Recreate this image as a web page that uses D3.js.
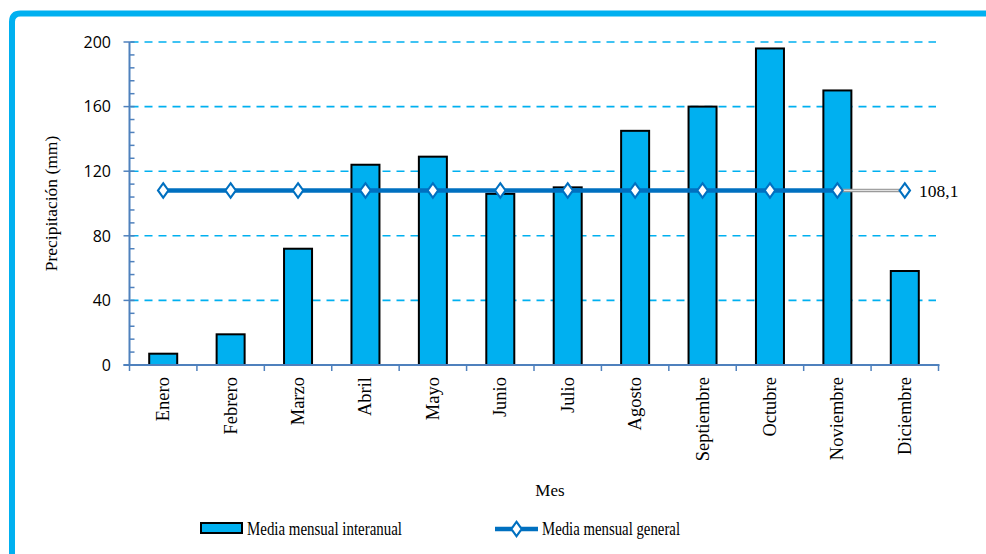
<!DOCTYPE html>
<html>
<head>
<meta charset="utf-8">
<script src="https://cdn.jsdelivr.net/npm/d3@7"></script>
<style>
  html, body { margin: 0; padding: 0; background: #fff; }
  svg { display: block; }
</style>
</head>
<body>
<svg id="chart" width="986" height="554"></svg>
<script>
// Monthly precipitation (mm)
const meses = ["Enero", "Febrero", "Marzo", "Abril", "Mayo", "Junio", "Julio",
               "Agosto", "Septiembre", "Octubre", "Noviembre", "Diciembre"];
const mediaInteranual = [7, 19, 72, 124, 129, 106, 110, 145, 160, 196, 170, 58.2];
const mediaGeneral = 108.1;
const mediaGeneralSerie = meses.map(() => mediaGeneral);
const yTicks = [0, 40, 80, 120, 160, 200];
const etiquetaMedia = "108,1";

const svg = d3.select("#chart");
const serif = "'Liberation Serif', 'Times New Roman', serif";
const sans = "'Open Sans', 'Liberation Sans', sans-serif";
const azul = "#00b0f0";
const azulLinea = "#0070c0";
const ejeColor = "#4f81bd";

const plotLeft = 129.5, plotRight = 938.5, plotTop = 42, plotBottom = 365;

const x = d3.scaleBand().domain(meses).range([plotLeft, plotRight]).paddingInner(0).paddingOuter(0);
const y = d3.scaleLinear().domain([0, 200]).range([plotBottom, plotTop]);

// Frame (top and left border with rounded corner)
svg.append("path")
  .attr("d", `M12,554 L12,22 Q12,13.5 20.5,13.5 L986,13.5`)
  .attr("fill", "none")
  .attr("stroke", azul)
  .attr("stroke-width", 6);

// Dashed gridlines
svg.append("g").selectAll("line")
  .data(yTicks.filter(d => d > 0))
  .join("line")
  .attr("x1", plotLeft + 1).attr("x2", 936)
  .attr("y1", d => y(d)).attr("y2", d => y(d))
  .attr("stroke", azul)
  .attr("stroke-width", 1.6)
  .attr("stroke-dasharray", "8,6");

// Bars
const bw = 28;
svg.append("g").selectAll("rect")
  .data(mediaInteranual)
  .join("rect")
  .attr("x", (d, i) => x(meses[i]) + x.bandwidth() / 2 - bw / 2)
  .attr("y", d => y(d))
  .attr("width", bw)
  .attr("height", d => y(0) - y(d))
  .attr("fill", azul)
  .attr("stroke", "#000")
  .attr("stroke-width", 2);

// Y axis with major ticks and minor ticks
const yAxis = svg.append("g");
yAxis.append("line")
  .attr("x1", plotLeft).attr("x2", plotLeft)
  .attr("y1", y(200)).attr("y2", y(0))
  .attr("stroke", ejeColor).attr("stroke-width", 2);
const minor = d3.range(0, 201, 8).filter(v => v % 40 !== 0);
yAxis.selectAll("line.minor")
  .data(minor).join("line").attr("class", "minor")
  .attr("x1", plotLeft).attr("x2", plotLeft + 5)
  .attr("y1", d => y(d)).attr("y2", d => y(d))
  .attr("stroke", ejeColor).attr("stroke-width", 1.5);
yAxis.selectAll("line.major")
  .data(yTicks).join("line").attr("class", "major")
  .attr("x1", plotLeft - 6).attr("x2", plotLeft + 5)
  .attr("y1", d => y(d)).attr("y2", d => y(d))
  .attr("stroke", ejeColor).attr("stroke-width", 1.5);
yAxis.selectAll("text")
  .data(yTicks).join("text")
  .attr("x", 111).attr("y", d => y(d))
  .attr("dy", "0.36em")
  .attr("text-anchor", "end")
  .attr("font-family", sans)
  .attr("font-size", 16)
  .attr("fill", "#000")
  .text(d => d);

// X axis
const xAxis = svg.append("g");
xAxis.append("line")
  .attr("x1", plotLeft - 6).attr("x2", plotRight + 1)
  .attr("y1", plotBottom).attr("y2", plotBottom)
  .attr("stroke", ejeColor).attr("stroke-width", 2);
const bounds = meses.map(m => x(m)).concat([plotRight]);
xAxis.selectAll("line.tick")
  .data(bounds).join("line").attr("class", "tick")
  .attr("x1", d => d).attr("x2", d => d)
  .attr("y1", plotBottom).attr("y2", plotBottom + 6)
  .attr("stroke", ejeColor).attr("stroke-width", 1.5);
xAxis.selectAll("text")
  .data(meses).join("text")
  .attr("transform", d => `translate(${x(d) + x.bandwidth() / 2 + 6},377) rotate(-90)`)
  .attr("text-anchor", "end")
  .attr("font-family", serif)
  .attr("font-size", 18.5)
  .attr("fill", "#000")
  .text(d => d);

// Average line: dark blue through Noviembre, grey leader to Diciembre
const cx = i => x(meses[i]) + x.bandwidth() / 2;
const n = meses.length;
const lineGen = d3.line().x((d, i) => cx(i)).y(d => y(d));
svg.append("path")
  .datum(mediaGeneralSerie.slice(0, n - 1))
  .attr("d", lineGen)
  .attr("fill", "none")
  .attr("stroke", azulLinea)
  .attr("stroke-width", 4.5);
svg.append("line")
  .attr("x1", cx(n - 2)).attr("x2", cx(n - 1))
  .attr("y1", y(mediaGeneral)).attr("y2", y(mediaGeneral))
  .attr("stroke", "#9a9a9a").attr("stroke-width", 3.5);
svg.append("line")
  .attr("x1", cx(n - 2)).attr("x2", cx(n - 1))
  .attr("y1", y(mediaGeneral)).attr("y2", y(mediaGeneral))
  .attr("stroke", "#e8e8e8").attr("stroke-width", 1);

const diamond = d3.symbol().type(d3.symbolDiamond).size(60);
svg.append("g").selectAll("path")
  .data(mediaGeneralSerie)
  .join("path")
  .attr("transform", (d, i) => `translate(${cx(i)},${y(d)}) scale(1.25,1)`)
  .attr("d", diamond)
  .attr("fill", "#fff")
  .attr("stroke", azulLinea)
  .attr("stroke-width", 1.8);

svg.append("text")
  .attr("x", 919).attr("y", y(mediaGeneral))
  .attr("dy", "0.35em")
  .attr("font-family", serif)
  .attr("font-size", 17.5)
  .attr("fill", "#000")
  .text(etiquetaMedia);

// Axis titles
svg.append("text")
  .attr("transform", `translate(57,${(plotTop + plotBottom) / 2}) rotate(-90)`)
  .attr("text-anchor", "middle")
  .attr("font-family", serif)
  .attr("font-size", 17.5)
  .attr("fill", "#000")
  .text("Precipitación (mm)");

svg.append("text")
  .attr("x", 550).attr("y", 496)
  .attr("text-anchor", "middle")
  .attr("font-family", serif)
  .attr("font-size", 17)
  .attr("fill", "#000")
  .text("Mes");

// Legend
const lg = svg.append("g");
lg.append("rect")
  .attr("x", 201).attr("y", 523).attr("width", 41).attr("height", 10)
  .attr("fill", azul).attr("stroke", "#000").attr("stroke-width", 2);
lg.append("text")
  .attr("x", 247).attr("y", 535)
  .attr("font-family", serif).attr("font-size", 18).attr("fill", "#000")
  .attr("textLength", 155).attr("lengthAdjust", "spacingAndGlyphs")
  .text("Media mensual interanual");
lg.append("line")
  .attr("x1", 495).attr("x2", 538).attr("y1", 529).attr("y2", 529)
  .attr("stroke", azulLinea).attr("stroke-width", 4.5);
lg.append("path")
  .attr("transform", "translate(516.5,529) scale(1.25,1)")
  .attr("d", diamond)
  .attr("fill", "#fff").attr("stroke", azulLinea).attr("stroke-width", 1.8);
lg.append("text")
  .attr("x", 542).attr("y", 535)
  .attr("font-family", serif).attr("font-size", 18).attr("fill", "#000")
  .attr("textLength", 138).attr("lengthAdjust", "spacingAndGlyphs")
  .text("Media mensual general");
</script>
</body>
</html>
